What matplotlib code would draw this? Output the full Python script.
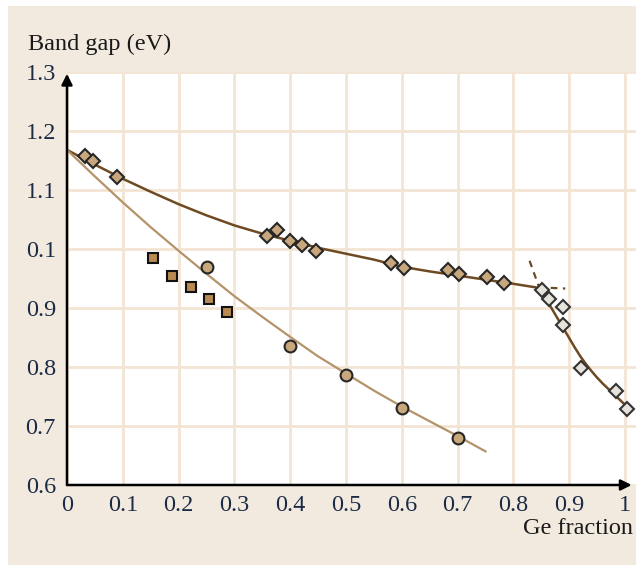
import matplotlib.pyplot as plt
from matplotlib.patches import Rectangle

# --- data: Si(1-x)Ge(x) band gap vs Ge fraction ---
# diamonds, tan fill
dia_x = [0.032, 0.047, 0.090, 0.358, 0.376, 0.400, 0.421, 0.446,
         0.581, 0.604, 0.683, 0.703, 0.753, 0.783]
dia_y = [1.158, 1.149, 1.122, 1.022, 1.032, 1.014, 1.007, 0.997,
         0.976, 0.968, 0.964, 0.958, 0.953, 0.942]
# diamonds, light fill (Ge-like branch)
dia2_x = [0.851, 0.863, 0.889, 0.888, 0.922, 0.984, 1.004]
dia2_y = [0.931, 0.916, 0.901, 0.872, 0.799, 0.759, 0.729]
# circles
circ_x = [0.250, 0.400, 0.500, 0.600, 0.700]
circ_y = [0.970, 0.836, 0.786, 0.731, 0.680]
# squares
sq_x = [0.154, 0.188, 0.222, 0.254, 0.287]
sq_y = [0.985, 0.955, 0.935, 0.915, 0.894]

# upper curve (unstrained), flat branch then steep branch
up_x = [0.00, 0.05, 0.10, 0.15, 0.20, 0.25, 0.30, 0.35, 0.40, 0.45, 0.50,
        0.55, 0.60, 0.65, 0.70, 0.75, 0.80, 0.84,
        0.85, 0.86, 0.87, 0.88, 0.89, 0.90, 0.91, 0.92, 0.93, 0.94, 0.95,
        0.96, 0.97, 0.98, 0.99, 1.00, 1.005]
up_y = [1.168, 1.143, 1.119, 1.097, 1.076, 1.057, 1.040, 1.026, 1.014, 1.002, 0.992,
        0.982, 0.970, 0.962, 0.955, 0.948, 0.941, 0.935,
        0.929, 0.913, 0.897, 0.881, 0.865, 0.849, 0.833, 0.818, 0.805, 0.793, 0.782,
        0.772, 0.763, 0.754, 0.745, 0.736, 0.731]
# lower curve (strained)
lo_x = [0.00, 0.05, 0.10, 0.15, 0.20, 0.25, 0.30, 0.35, 0.40, 0.45, 0.50,
        0.55, 0.60, 0.65, 0.70, 0.75]
lo_y = [1.168, 1.123, 1.079, 1.037, 0.997, 0.958, 0.920, 0.885, 0.851, 0.818, 0.789,
        0.760, 0.733, 0.708, 0.683, 0.657]
# dashed extensions at the crossover
dash1_x = [0.829, 0.848]
dash1_y = [0.980, 0.930]
dash2_x = [0.845, 0.893]
dash2_y = [0.935, 0.933]

xticks = [0, 0.1, 0.2, 0.3, 0.4, 0.5, 0.6, 0.7, 0.8, 0.9, 1.0]
xlabels = ['0', '0.1', '0.2', '0.3', '0.4', '0.5', '0.6', '0.7', '0.8', '0.9', '1']
yticks = [0.6, 0.7, 0.8, 0.9, 1.0, 1.1, 1.2, 1.3]
ylabels = ['0.6', '0.7', '0.8', '0.9', '0.1', '1.1', '1.2', '1.3']

cream = '#f2eadf'
gridc = '#f3e5d3'
dark_brown = '#6e4a22'
light_brown = '#b4936a'
tan = '#c9a77c'
edge = '#262626'
tickc = '#1c2b45'

plt.rcParams['font.family'] = ['Liberation Serif', 'DejaVu Serif']

fig = plt.figure(figsize=(6.36, 5.65), dpi=100, facecolor='white')
fig.patches.append(Rectangle((8 / 636, 0), 1, 1 - 6 / 565, transform=fig.transFigure,
                             facecolor=cream, edgecolor='none', zorder=-10))
ax = fig.add_axes([67 / 636, 80 / 565, 569 / 636, 413 / 565])
ax.set_facecolor('white')
ax.set_xlim(0, 569 / 558)
ax.set_ylim(0.6, 1.3)

for s in ax.spines.values():
    s.set_visible(False)
ax.set_xticks(xticks)
ax.set_xticklabels(xlabels)
ax.set_yticks(yticks)
ax.set_yticklabels(ylabels)
ax.tick_params(length=0, labelsize=17.5, colors=tickc)
ax.tick_params(axis='y', pad=8)
ax.tick_params(axis='x', pad=7)
ax.grid(True, color=gridc, linewidth=2)
ax.set_axisbelow(True)

# curves
ax.plot(up_x, up_y, color=dark_brown, lw=1.8, zorder=3)
ax.plot(lo_x, lo_y, color=light_brown, lw=1.6, zorder=3)
ax.plot(dash1_x, dash1_y, color=dark_brown, lw=1.6, ls=(0, (3, 2.5)), zorder=3)
ax.plot(dash2_x, dash2_y, color=dark_brown, lw=1.6, ls=(0, (3, 2.5)), zorder=3)

# markers
ax.plot(dia_x, dia_y, 'D', ms=7, mfc=tan, mec=edge, mew=1.5, ls='none', zorder=4)
ax.plot(dia2_x, dia2_y, 'D', ms=7, mfc='#e6e2dc', mec='#333333', mew=1.5, ls='none', zorder=4)
ax.plot(circ_x, circ_y, 'o', ms=8.5, mfc=tan, mec=edge, mew=1.5, ls='none', zorder=4)
ax.plot(sq_x, sq_y, 's', ms=7.5, mfc='#b98a52', mec='#111111', mew=1.5, ls='none', zorder=4)

# axes with arrow heads
ax.annotate('', xy=(1.012, 0.6), xytext=(0, 0.6), xycoords='data',
            arrowprops=dict(arrowstyle='-|>', color='black', lw=1.8,
                            mutation_scale=16, shrinkA=0, shrinkB=0),
            annotation_clip=False)
ax.annotate('', xy=(0, 1.297), xytext=(0, 0.6), xycoords='data',
            arrowprops=dict(arrowstyle='-|>', color='black', lw=1.8,
                            mutation_scale=16, shrinkA=0, shrinkB=0),
            annotation_clip=False)

fig.text(28 / 636, 1 - 44 / 565, 'Band gap (eV)', fontsize=17.5, color='#1a1a1a',
         ha='left', va='center')
fig.text(633 / 636, 1 - 529 / 565, 'Ge fraction', fontsize=17.5, color='#1a1a1a',
         ha='right', va='center')

fig.savefig('out.png', dpi=100, facecolor=fig.get_facecolor())
